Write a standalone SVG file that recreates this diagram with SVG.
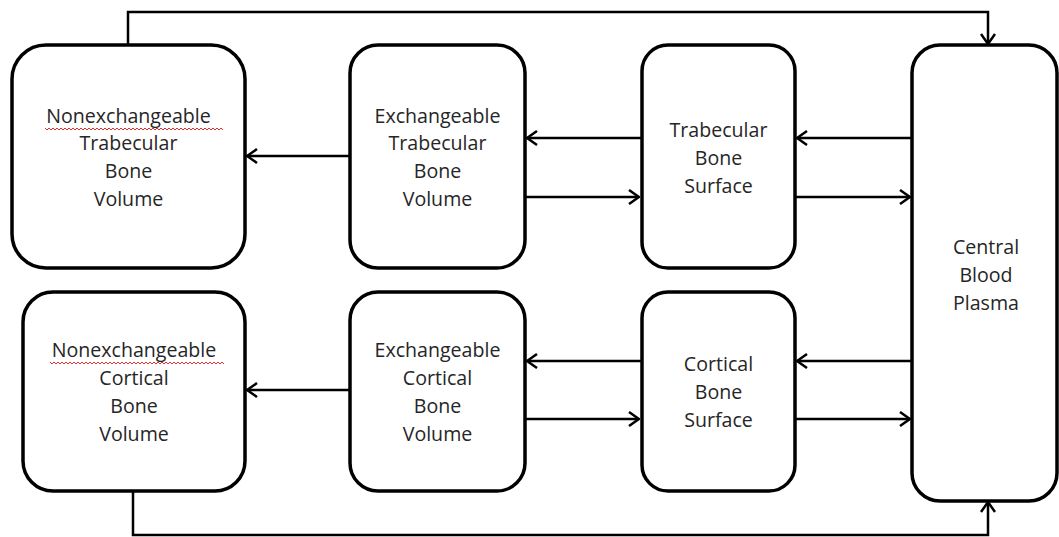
<svg xmlns="http://www.w3.org/2000/svg" width="1059" height="537" viewBox="0 0 1059 537">
<style>
.box{fill:#fff;stroke:#000;stroke-width:3.5}
.lbl{font-family:"Open Sans","Liberation Sans",sans-serif;font-size:19.6px;fill:#262626;text-anchor:middle}
.con{fill:none;stroke:#000;stroke-width:2.5}
.sq{fill:none;stroke:#e03030;stroke-width:1}
</style>
<defs>
<marker id="ah" viewBox="0 0 12 16" refX="11" refY="8" markerWidth="12" markerHeight="16" markerUnits="userSpaceOnUse" orient="auto">
<path d="M1,1 L11,8 L1,15" fill="none" stroke="#000" stroke-width="2.5"/>
</marker>
</defs>
<rect width="1059" height="537" fill="#fff"/>
<g id="connectors">
<path class="con" d="M128,45 V12 H988 V44" marker-end="url(#ah)"/>
<path class="con" d="M133,491 V535 H988 V502" marker-end="url(#ah)"/>
<path class="con" d="M350,156 H247" marker-end="url(#ah)"/>
<path class="con" d="M641,138 H527" marker-end="url(#ah)"/>
<path class="con" d="M525,197 H639" marker-end="url(#ah)"/>
<path class="con" d="M912,138 H797" marker-end="url(#ah)"/>
<path class="con" d="M795,197 H910" marker-end="url(#ah)"/>
<path class="con" d="M350,390 H247" marker-end="url(#ah)"/>
<path class="con" d="M641,361 H527" marker-end="url(#ah)"/>
<path class="con" d="M525,419 H639" marker-end="url(#ah)"/>
<path class="con" d="M912,361 H797" marker-end="url(#ah)"/>
<path class="con" d="M795,419 H910" marker-end="url(#ah)"/>
</g>
<g id="nonexch-trabecular">
<rect class="box" x="12" y="45" width="233" height="223" rx="34"/>
<text class="lbl" x="128.5" y="123">Nonexchangeable</text>
<path class="sq" d="M45,128 l2,2 l2,-2 l2,2 l2,-2 l2,2 l2,-2 l2,2 l2,-2 l2,2 l2,-2 l2,2 l2,-2 l2,2 l2,-2 l2,2 l2,-2 l2,2 l2,-2 l2,2 l2,-2 l2,2 l2,-2 l2,2 l2,-2 l2,2 l2,-2 l2,2 l2,-2 l2,2 l2,-2 l2,2 l2,-2 l2,2 l2,-2 l2,2 l2,-2 l2,2 l2,-2 l2,2 l2,-2 l2,2 l2,-2 l2,2 l2,-2 l2,2 l2,-2 l2,2 l2,-2 l2,2 l2,-2 l2,2 l2,-2 l2,2 l2,-2 l2,2 l2,-2 l2,2 l2,-2 l2,2 l2,-2 l2,2 l2,-2 l2,2 l2,-2 l2,2 l2,-2 l2,2 l2,-2 l2,2 l2,-2 l2,2 l2,-2 l2,2 l2,-2 l2,2 l2,-2 l2,2 l2,-2 l2,2 l2,-2 l2,2 l2,-2 l2,2 l2,-2 l2,2 l2,-2 l2,2 l2,-2 l2,2"/>
<text class="lbl" x="128.5" y="150">Trabecular</text>
<text class="lbl" x="128.5" y="178">Bone</text>
<text class="lbl" x="128.5" y="206">Volume</text>
</g>
<g id="exch-trabecular">
<rect class="box" x="350" y="45" width="175" height="223" rx="28"/>
<text class="lbl" x="437.5" y="123">Exchangeable</text>
<text class="lbl" x="437.5" y="150">Trabecular</text>
<text class="lbl" x="437.5" y="178">Bone</text>
<text class="lbl" x="437.5" y="206">Volume</text>
</g>
<g id="trabecular-surface">
<rect class="box" x="642" y="45" width="153" height="223" rx="26"/>
<text class="lbl" x="718.5" y="137">Trabecular</text>
<text class="lbl" x="718.5" y="165">Bone</text>
<text class="lbl" x="718.5" y="193">Surface</text>
</g>
<g id="nonexch-cortical">
<rect class="box" x="23" y="292" width="222" height="199" rx="30"/>
<text class="lbl" x="134" y="357">Nonexchangeable</text>
<path class="sq" d="M50,362 l2,2 l2,-2 l2,2 l2,-2 l2,2 l2,-2 l2,2 l2,-2 l2,2 l2,-2 l2,2 l2,-2 l2,2 l2,-2 l2,2 l2,-2 l2,2 l2,-2 l2,2 l2,-2 l2,2 l2,-2 l2,2 l2,-2 l2,2 l2,-2 l2,2 l2,-2 l2,2 l2,-2 l2,2 l2,-2 l2,2 l2,-2 l2,2 l2,-2 l2,2 l2,-2 l2,2 l2,-2 l2,2 l2,-2 l2,2 l2,-2 l2,2 l2,-2 l2,2 l2,-2 l2,2 l2,-2 l2,2 l2,-2 l2,2 l2,-2 l2,2 l2,-2 l2,2 l2,-2 l2,2 l2,-2 l2,2 l2,-2 l2,2 l2,-2 l2,2 l2,-2 l2,2 l2,-2 l2,2 l2,-2 l2,2 l2,-2 l2,2 l2,-2 l2,2 l2,-2 l2,2 l2,-2 l2,2 l2,-2 l2,2 l2,-2 l2,2 l2,-2 l2,2 l2,-2 l2,2"/>
<text class="lbl" x="134" y="385">Cortical</text>
<text class="lbl" x="134" y="413">Bone</text>
<text class="lbl" x="134" y="441">Volume</text>
</g>
<g id="exch-cortical">
<rect class="box" x="350" y="292" width="175" height="199" rx="28"/>
<text class="lbl" x="437.5" y="357">Exchangeable</text>
<text class="lbl" x="437.5" y="385">Cortical</text>
<text class="lbl" x="437.5" y="413">Bone</text>
<text class="lbl" x="437.5" y="441">Volume</text>
</g>
<g id="cortical-surface">
<rect class="box" x="642" y="292" width="153" height="199" rx="26"/>
<text class="lbl" x="718.5" y="371">Cortical</text>
<text class="lbl" x="718.5" y="399">Bone</text>
<text class="lbl" x="718.5" y="427">Surface</text>
</g>
<g id="central-blood-plasma">
<rect class="box" x="912" y="45" width="145" height="456" rx="28"/>
<text class="lbl" x="986" y="254">Central</text>
<text class="lbl" x="986" y="282">Blood</text>
<text class="lbl" x="986" y="310">Plasma</text>
</g>
</svg>
